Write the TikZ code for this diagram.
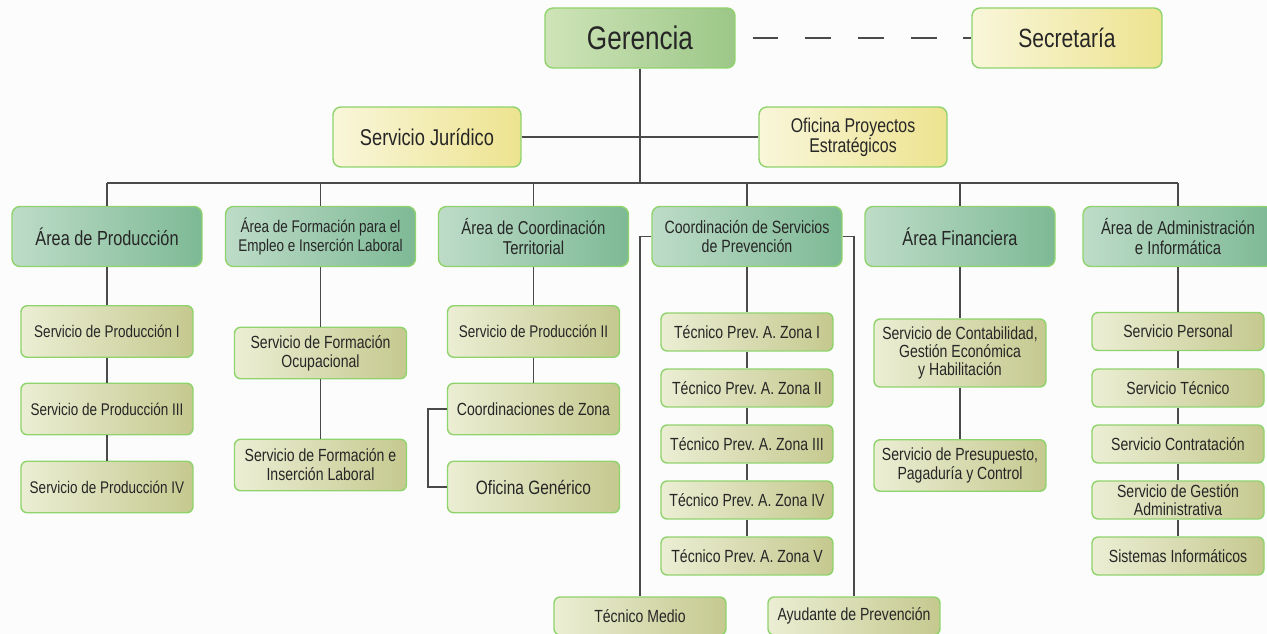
\documentclass[tikz,border=0pt]{standalone}
\usepackage{fontspec}
\setmainfont{Liberation Sans}[FakeStretch=0.8]
\frenchspacing
\definecolor{bgc}{HTML}{FCFCFC}
\definecolor{bord}{HTML}{8FD36C}
\definecolor{linec}{HTML}{4A4A4A}
\definecolor{txt}{HTML}{262626}
\definecolor{gL}{HTML}{CFE4B8}
\definecolor{gR}{HTML}{9CC788}
\definecolor{tL}{HTML}{BEDCC8}
\definecolor{tR}{HTML}{7DB995}
\definecolor{oL}{HTML}{EBEED3}
\definecolor{oR}{HTML}{C5C98F}
\definecolor{yL}{HTML}{F9F6DA}
\definecolor{yR}{HTML}{EDE38F}
\begin{document}
\begin{tikzpicture}[x=0.02cm,y=-0.02cm,
  box/.style={draw=bord, line width=0.8pt, inner sep=0pt, align=center, text=txt},
  topbox/.style={box, rounded corners=4.5pt, left color=gL, right color=gR, minimum width=3.8cm, minimum height=1.2cm, font=\fontsize{18.6}{20}\selectfont},
  ybox/.style={box, rounded corners=4.5pt, left color=yL, right color=yR, minimum width=3.76cm, minimum height=1.2cm},
  areabox/.style={box, rounded corners=4.5pt, left color=tL, right color=tR, minimum width=3.8cm, minimum height=1.2cm, font=\fontsize{10.6}{11}\selectfont},
  subbox/.style={box, rounded corners=3.5pt, left color=oL, right color=oR, minimum width=3.44cm, minimum height=1.03cm, font=\fontsize{10}{10.8}\selectfont},
  prodbox/.style={subbox, font=\fontsize{9.6}{10.8}\selectfont},
  zbox/.style={subbox, minimum height=0.76cm},
  conn/.style={draw=linec, line width=0.85pt}]
\useasboundingbox (0,0) rectangle (1267,634);
\clip (0,0) rectangle (1267,634);
\fill[bgc] (0,0) rectangle (1267,634);

% top level
\node[topbox] (ger) at (640,38) {Gerencia};
\node[ybox, minimum width=3.8cm, font=\fontsize{15}{17}\selectfont] (sec) at (1067,38) {Secretaría};
\node[ybox, font=\fontsize{13}{15}\selectfont] (jur) at (427,137) {Servicio Jurídico};
\node[ybox, font=\fontsize{11.3}{11.5}\selectfont] (ofi) at (853,137) {Oficina Proyectos\\Estratégicos};

% areas
\node[areabox, font=\fontsize{11.6}{13}\selectfont] (a1) at (107,236.5) {Área de Producción};
\node[areabox, font=\fontsize{9.6}{10.8}\selectfont] (a2) at (320.5,236.5) {Área de Formación para el\\Empleo e Inserción Laboral};
\node[areabox] (a3) at (533.5,236.5) {Área de Coordinación\\Territorial};
\node[areabox, font=\fontsize{10.1}{10.4}\selectfont] (a4) at (747,236.5) {Coordinación de Servicios\\de Prevención};
\node[areabox, font=\fontsize{11.6}{13}\selectfont] (a5) at (960,236.5) {Área Financiera};
\node[areabox] (a6) at (1178,236.5) {Área de Administración\\e Informática};

% column 1
\node[prodbox] (p1) at (107,331.5) {Servicio de Producción I};
\node[prodbox] (p3) at (107,409) {Servicio de Producción III};
\node[prodbox] (p4) at (107,487) {Servicio de Producción IV};
% column 2
\node[subbox] (f1) at (320.5,353) {Servicio de Formación\\Ocupacional};
\node[subbox] (f2) at (320.5,465) {Servicio de Formación e\\Inserción Laboral};
% column 3
\node[prodbox] (p2) at (533.5,331.5) {Servicio de Producción II};
\node[subbox] (cz) at (533.5,409) {Coordinaciones de Zona};
\node[subbox, font=\fontsize{11}{12}\selectfont] (og) at (533.5,487) {Oficina Genérico};
% column 4
\node[zbox] (z1) at (747,332) {Técnico Prev. A. Zona I};
\node[zbox] (z2) at (747,388) {Técnico Prev. A. Zona II};
\node[zbox] (z3) at (747,444) {Técnico Prev. A. Zona III};
\node[zbox] (z4) at (747,500) {Técnico Prev. A. Zona IV};
\node[zbox] (z5) at (747,556) {Técnico Prev. A. Zona V};
\node[zbox] (tm) at (640,616) {Técnico Medio};
\node[zbox] (ay) at (854,616) {Ayudante de Prevención};
% column 5
\node[subbox, minimum height=1.36cm, font=\fontsize{10}{10.4}\selectfont] (c1) at (960,353) {Servicio de Contabilidad,\\Gestión Económica\\y Habilitación};
\node[subbox] (c2) at (960,465.5) {Servicio de Presupuesto,\\Pagaduría y Control};
% column 6
\node[zbox] (s1) at (1178,331.5) {Servicio Personal};
\node[zbox] (s2) at (1178,388) {Servicio Técnico};
\node[zbox] (s3) at (1178,444) {Servicio Contratación};
\node[zbox, font=\fontsize{10}{10.2}\selectfont] (s4) at (1178,500) {Servicio de Gestión\\Administrativa};
\node[zbox] (s5) at (1178,556) {Sistemas Informáticos};

% connectors
\coordinate (busL) at (107,183);
\coordinate (busR) at (1178,183);
\draw[conn] (ger.east) -- (sec.west) [dash pattern=on 14.7pt off 15.3pt, dash phase=20.4pt];
\draw[conn] (ger.south) -- (ger.south |- busL);
\draw[conn] (jur.east) -- (ofi.west);
\draw[conn] (busL) -- (busR);
\foreach \a in {a1,a2,a3,a4,a5,a6}{\draw[conn] (\a.north) -- (\a.north |- busL);}
\draw[conn] (a1.south) -- (p1.north);
\draw[conn] (p1.south) -- (p3.north);
\draw[conn] (p3.south) -- (p4.north);
\draw[conn] (a2.south) -- (f1.north);
\draw[conn] (f1.south) -- (f2.north);
\draw[conn] (a3.south) -- (p2.north);
\draw[conn] (p2.south) -- (cz.north);
\draw[conn] (cz.west) -- ++(-19,0) |- (og.west);
\draw[conn] (a4.south) -- (z1.north);
\draw[conn] (z1.south) -- (z2.north);
\draw[conn] (z2.south) -- (z3.north);
\draw[conn] (z3.south) -- (z4.north);
\draw[conn] (z4.south) -- (z5.north);
\draw[conn] (a4.west) -| (tm.north);
\draw[conn] (a4.east) -| (ay.north);
\draw[conn] (a5.south) -- (c1.north);
\draw[conn] (c1.south) -- (c2.north);
\draw[conn] (a6.south) -- (s1.north);
\draw[conn] (s1.south) -- (s2.north);
\draw[conn] (s2.south) -- (s3.north);
\draw[conn] (s3.south) -- (s4.north);
\draw[conn] (s4.south) -- (s5.north);
\end{tikzpicture}
\end{document}
